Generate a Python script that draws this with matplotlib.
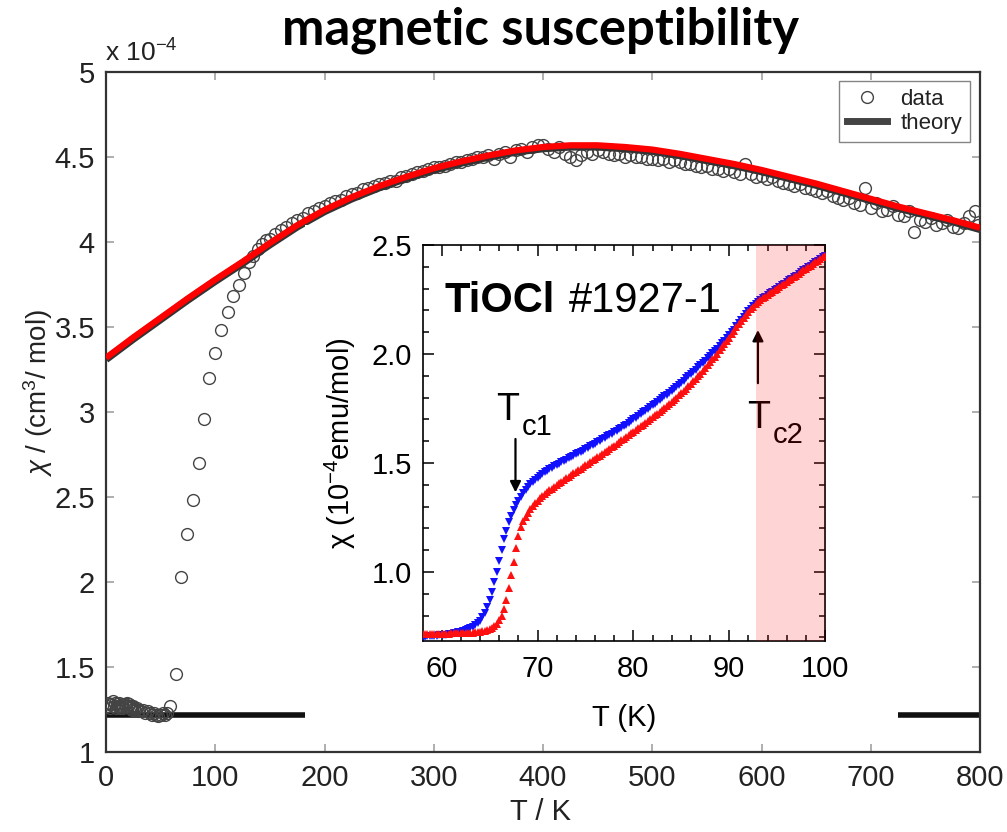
import matplotlib
matplotlib.use("Agg")
import matplotlib.pyplot as plt
from matplotlib.lines import Line2D
from matplotlib.patches import Rectangle
from matplotlib.transforms import offset_copy
from matplotlib.ticker import MultipleLocator, FixedLocator, FixedFormatter

plt.rcParams['font.family'] = ['Liberation Sans', 'DejaVu Sans']
plt.rcParams['mathtext.fontset'] = 'custom'
plt.rcParams['mathtext.rm'] = 'Liberation Sans'
plt.rcParams['mathtext.it'] = 'Liberation Sans:italic'

# ---------------- main panel: chi(T) of TiOCl, 0-800 K (units of 1e-4 cm^3/mol)
T_low = [1, 2, 3, 4, 5, 6, 7, 8, 9, 10, 11, 12, 13, 14, 15, 16, 17, 18, 19,
         20, 21, 22, 23, 24, 25, 26, 27, 28, 29, 30, 32, 34, 36, 38, 40, 42,
         44, 46, 48, 50, 52, 54, 56, 59]
chi_low = [1.27, 1.29, 1.28, 1.26, 1.28, 1.30, 1.27, 1.29, 1.26, 1.28, 1.27,
           1.29, 1.26, 1.27, 1.28, 1.26, 1.28, 1.27, 1.29, 1.27, 1.28, 1.26,
           1.27, 1.25, 1.27, 1.26, 1.25, 1.26, 1.24, 1.25, 1.24, 1.25, 1.23,
           1.24, 1.23, 1.22, 1.23, 1.22, 1.21, 1.22, 1.23, 1.22, 1.23, 1.27]

T_rise = [64, 68.6, 74.1, 79.6, 85.1, 89.7, 94.3, 99.8, 105.3, 111.7, 116.2,
          121.7, 126.3, 130.9, 134.6, 139.1, 142.8, 146.5]
chi_rise = [1.46, 2.03, 2.28, 2.48, 2.70, 2.96, 3.20, 3.35, 3.48, 3.59, 3.68,
            3.75, 3.82, 3.88, 3.92, 3.96, 3.99, 4.01]

T_high = [150, 155, 160, 165, 170, 175, 180, 185, 190, 195, 200, 205, 210,
          215, 220, 225, 230, 235, 240, 245, 250, 255, 260, 265, 270, 275,
          280, 285, 290, 295, 300, 305, 310, 315, 320, 325, 330, 335, 340,
          345, 350, 355, 360, 365, 370, 375, 380, 385, 390, 395, 400, 405,
          410, 415, 420, 425, 430, 435, 440, 445, 450, 455, 460, 465, 470,
          475, 480, 485, 490, 495, 500, 505, 510, 515, 520, 525, 530, 535,
          540, 545, 550, 555, 560, 565, 570, 575, 580, 585, 590, 595, 600,
          605, 610, 615, 620, 625, 630, 635, 640, 645, 650, 655, 660, 665,
          670, 675, 680, 685, 690, 695, 700, 705, 710, 715, 720, 725, 730,
          735, 740, 745, 750, 755, 760, 765, 770, 775, 780, 785, 790, 795, 798]
chi_high = [4.02, 4.05, 4.07, 4.09, 4.11, 4.13, 4.14, 4.17, 4.18, 4.20, 4.21,
            4.23, 4.24, 4.25, 4.27, 4.28, 4.29, 4.31, 4.32, 4.33, 4.34, 4.35,
            4.36, 4.36, 4.38, 4.39, 4.40, 4.41, 4.42, 4.43, 4.44, 4.44, 4.45,
            4.46, 4.47, 4.47, 4.48, 4.49, 4.50, 4.50, 4.51, 4.49, 4.52, 4.53,
            4.50, 4.54, 4.55, 4.53, 4.56, 4.57, 4.57, 4.55, 4.53, 4.56, 4.52,
            4.50, 4.48, 4.51, 4.53, 4.52, 4.54, 4.53, 4.52, 4.51, 4.52, 4.50,
            4.51, 4.50, 4.50, 4.49, 4.49, 4.48, 4.49, 4.47, 4.48, 4.47, 4.46,
            4.46, 4.45, 4.44, 4.45, 4.43, 4.43, 4.42, 4.43, 4.41, 4.40, 4.46,
            4.40, 4.38, 4.39, 4.37, 4.38, 4.36, 4.35, 4.34, 4.33, 4.34, 4.32,
            4.31, 4.30, 4.29, 4.30, 4.27, 4.26, 4.25, 4.26, 4.23, 4.22, 4.32,
            4.20, 4.23, 4.18, 4.19, 4.21, 4.16, 4.15, 4.18, 4.06, 4.13, 4.12,
            4.14, 4.10, 4.11, 4.13, 4.09, 4.08, 4.11, 4.15, 4.18, 4.10]

T_theory = [0, 25, 50, 75, 100, 125, 150, 175, 200, 225, 250, 275, 300, 325,
            350, 375, 400, 425, 450, 475, 500, 525, 550, 575, 600, 625, 650,
            675, 700, 725, 750, 775, 800]
chi_theory = [3.31, 3.43, 3.545, 3.66, 3.77, 3.875, 3.985, 4.09, 4.18, 4.255,
              4.32, 4.375, 4.425, 4.465, 4.50, 4.53, 4.55, 4.56, 4.56, 4.55,
              4.535, 4.51, 4.48, 4.45, 4.415, 4.375, 4.335, 4.29, 4.245, 4.20,
              4.16, 4.12, 4.075]

T_flat = [0, 800]
chi_flat = [1.218, 1.218]

main_xticks = [0, 100, 200, 300, 400, 500, 600, 700, 800]
main_yticks = [1, 1.5, 2, 2.5, 3, 3.5, 4, 4.5, 5]
main_ylabels = ['1', '1.5', '2', '2.5', '3', '3.5', '4', '4.5', '5']

# ---------------- inset: low-temperature sweeps (units of 1e-4 emu/mol)
T_in = [58.0, 58.25, 58.5, 58.75, 59.0, 59.25, 59.5, 59.75, 60.0, 60.25, 60.5,
        60.75, 61.0, 61.25, 61.5, 61.75, 62.0, 62.25, 62.5, 62.75, 63.0, 63.25,
        63.5, 63.75, 64.0, 64.25, 64.5, 64.75, 65.0, 65.25, 65.5, 65.75, 66.0,
        66.25, 66.5, 66.75, 67.0, 67.25, 67.5, 67.75, 68.0, 68.25, 68.5, 68.75,
        69.0, 69.25, 69.5, 69.75, 70.0, 70.25, 70.5, 70.75, 71.0, 71.25, 71.5,
        71.75, 72.0, 72.25, 72.5, 72.75, 73.0, 73.25, 73.5, 73.75, 74.0, 74.25,
        74.5, 74.75, 75.0, 75.25, 75.5, 75.75, 76.0, 76.25, 76.5, 76.75, 77.0,
        77.25, 77.5, 77.75, 78.0, 78.25, 78.5, 78.75, 79.0, 79.25, 79.5, 79.75,
        80.0, 80.25, 80.5, 80.75, 81.0, 81.25, 81.5, 81.75, 82.0, 82.25, 82.5,
        82.75, 83.0, 83.25, 83.5, 83.75, 84.0, 84.25, 84.5, 84.75, 85.0, 85.25,
        85.5, 85.75, 86.0, 86.25, 86.5, 86.75, 87.0, 87.25, 87.5, 87.75, 88.0,
        88.25, 88.5, 88.75, 89.0, 89.25, 89.5, 89.75, 90.0, 90.25, 90.5, 90.75,
        91.0, 91.25, 91.5, 91.75, 92.0, 92.25, 92.5, 92.75, 93.0, 93.25, 93.5,
        93.75, 94.0, 94.25, 94.5, 94.75, 95.0, 95.25, 95.5, 95.75, 96.0, 96.25,
        96.5, 96.75, 97.0, 97.25, 97.5, 97.75, 98.0, 98.25, 98.5, 98.75, 99.0,
        99.25, 99.5, 99.75, 100.0]
chi_cool = [0.703, 0.703, 0.704, 0.705, 0.706, 0.707, 0.708, 0.709, 0.710,
            0.711, 0.712, 0.714, 0.716, 0.718, 0.720, 0.723, 0.726, 0.729,
            0.733, 0.737, 0.742, 0.748, 0.756, 0.765, 0.777, 0.792, 0.812,
            0.838, 0.870, 0.908, 0.952, 1.000, 1.050, 1.100, 1.150, 1.190,
            1.228, 1.258, 1.283, 1.305, 1.325, 1.343, 1.360, 1.375, 1.389,
            1.402, 1.413, 1.423, 1.433, 1.442, 1.450, 1.458, 1.465, 1.472,
            1.478, 1.484, 1.490, 1.497, 1.503, 1.509, 1.515, 1.521, 1.527,
            1.533, 1.539, 1.545, 1.551, 1.557, 1.563, 1.570, 1.576, 1.583,
            1.589, 1.596, 1.602, 1.609, 1.615, 1.622, 1.628, 1.635, 1.641,
            1.648, 1.654, 1.661, 1.668, 1.676, 1.684, 1.692, 1.700, 1.708,
            1.716, 1.724, 1.732, 1.740, 1.748, 1.756, 1.764, 1.772, 1.780,
            1.788, 1.797, 1.805, 1.814, 1.823, 1.832, 1.841, 1.850, 1.859,
            1.869, 1.878, 1.888, 1.898, 1.908, 1.918, 1.928, 1.938, 1.949,
            1.959, 1.970, 1.981, 1.992, 2.003, 2.014, 2.025, 2.037, 2.049,
            2.061, 2.073, 2.086, 2.099, 2.112, 2.127, 2.141, 2.155, 2.169,
            2.182, 2.195, 2.207, 2.218, 2.228, 2.238, 2.247, 2.255, 2.263,
            2.270, 2.278, 2.285, 2.293, 2.300, 2.308, 2.315, 2.323, 2.330,
            2.338, 2.345, 2.353, 2.360, 2.368, 2.375, 2.383, 2.390, 2.398,
            2.405, 2.413, 2.420, 2.428, 2.435, 2.443, 2.450]
chi_heat = [0.715, 0.715, 0.715, 0.715, 0.716, 0.716, 0.716, 0.716, 0.717,
            0.717, 0.717, 0.717, 0.718, 0.718, 0.718, 0.718, 0.719, 0.719,
            0.720, 0.720, 0.721, 0.722, 0.723, 0.724, 0.726, 0.728, 0.731,
            0.734, 0.738, 0.743, 0.750, 0.762, 0.778, 0.800, 0.832, 0.872,
            0.925, 0.985, 1.045, 1.110, 1.165, 1.205, 1.232, 1.254, 1.272,
            1.288, 1.302, 1.315, 1.327, 1.337, 1.347, 1.356, 1.365, 1.374,
            1.382, 1.390, 1.398, 1.406, 1.414, 1.422, 1.429, 1.437, 1.444,
            1.452, 1.459, 1.467, 1.474, 1.482, 1.489, 1.497, 1.504, 1.512,
            1.519, 1.527, 1.534, 1.542, 1.549, 1.557, 1.564, 1.572, 1.580,
            1.588, 1.596, 1.604, 1.612, 1.620, 1.628, 1.636, 1.644, 1.652,
            1.660, 1.668, 1.676, 1.684, 1.692, 1.701, 1.709, 1.718, 1.726,
            1.735, 1.744, 1.753, 1.762, 1.772, 1.781, 1.791, 1.800, 1.810,
            1.820, 1.831, 1.841, 1.852, 1.863, 1.875, 1.886, 1.898, 1.910,
            1.923, 1.935, 1.948, 1.961, 1.975, 1.988, 2.002, 2.016, 2.031,
            2.045, 2.060, 2.075, 2.091, 2.106, 2.122, 2.137, 2.152, 2.167,
            2.181, 2.194, 2.206, 2.217, 2.227, 2.237, 2.247, 2.255, 2.263,
            2.270, 2.278, 2.285, 2.293, 2.300, 2.308, 2.315, 2.323, 2.330,
            2.338, 2.345, 2.353, 2.360, 2.368, 2.375, 2.383, 2.390, 2.398,
            2.405, 2.413, 2.420, 2.428, 2.435, 2.443, 2.450]

inset_xticks = [60, 70, 80, 90, 100]
inset_yticks = [1.0, 1.5, 2.0, 2.5]
inset_ylabels = ['1.0', '1.5', '2.0', '2.5']
Tc2_band = [92.8, 100]

W, H = 1007, 832
fig = plt.figure(figsize=(W / 100, H / 100), dpi=100)
fig.patch.set_facecolor('white')

def fx(px):
    return px / W

def fy(py):
    return 1 - py / H

# ---------------- main axes
ax = fig.add_axes([fx(106), fy(752), fx(980) - fx(106), fy(72) - fy(752)])
ax.set_xlim(0, 800)
ax.set_ylim(1, 5)
for s in ax.spines.values():
    s.set_color('#333333')
    s.set_linewidth(1.6)
ax.xaxis.set_major_locator(FixedLocator(main_xticks))
ax.yaxis.set_major_locator(FixedLocator(main_yticks))
ax.yaxis.set_major_formatter(FixedFormatter(main_ylabels))
ax.tick_params(direction='in', length=6, width=1.1, color='#999999',
               labelsize=21, labelcolor='#222222', top=True, right=True)
ax.tick_params(axis='x', pad=9)
ax.tick_params(axis='y', pad=8)

ax.plot(T_flat, chi_flat, color='#111111', lw=4, zorder=2, solid_capstyle='butt')
mk = dict(ls='none', marker='o', ms=8.5, mfc='none', mec='#444444', mew=1.0, zorder=3)
ax.plot(T_low, chi_low, **mk)
ax.plot(T_rise, chi_rise, **mk)
ax.plot(T_high, chi_high, **mk)
ax.plot(T_theory, chi_theory, color='#333333', lw=5.5, zorder=4,
        solid_capstyle='butt')
red_tr = offset_copy(ax.transData, fig=fig, x=0, y=1.5, units='dots')
ax.plot(T_theory, chi_theory, color='#ff0000', lw=4.5, zorder=5, transform=red_tr,
        solid_capstyle='butt')

leg = ax.legend([Line2D([], [], **{k: v for k, v in mk.items() if k != 'zorder'}),
                 Line2D([], [], color='#444444', lw=5)],
                ['data', 'theory'], loc='upper right',
                bbox_to_anchor=((970 - 106) / 874, (752 - 81) / 680),
                borderaxespad=0, fontsize=16, frameon=True, fancybox=False,
                handlelength=1.8, handletextpad=0.6, labelspacing=0.15,
                borderpad=0.35)
leg.get_frame().set_edgecolor('#666666')
leg.get_frame().set_linewidth(1.0)
for t in leg.get_texts():
    t.set_color('#222222')

fig.text(fx(105), fy(62), r'x 10$^{-4}$', fontsize=19, color='#222222',
         ha='left', va='baseline')
fig.text(fx(38), fy(393), r'$\chi$ / (cm$^{3}$/ mol)', fontsize=20, rotation=90,
         ha='center', va='center', color='#222222')
fig.text(fx(541), fy(812), 'T / K', fontsize=21, ha='center', va='center',
         color='#222222')
fig.text(fx(541), fy(30), 'magnetic susceptibility', fontsize=36.5,
         fontweight='bold', family=['Lato', 'DejaVu Sans'], ha='center',
         va='center', color='black')

# white backing for the inset
fig.patches.append(Rectangle((fx(305), fy(735)), fx(898) - fx(305), fy(225) - fy(735),
                             transform=fig.transFigure, facecolor='white',
                             edgecolor='none', zorder=0.5))

# ---------------- inset axes
ax2 = fig.add_axes([fx(423), fy(641), fx(825) - fx(423), fy(245) - fy(641)])
ax2.set_zorder(1)
ax2.set_facecolor('white')
ax2.set_xlim(58.05, 100)
ax2.set_ylim(0.683, 2.5)
for s in ax2.spines.values():
    s.set_color('black')
    s.set_linewidth(1.2)
ax2.xaxis.set_major_locator(FixedLocator(inset_xticks))
ax2.xaxis.set_minor_locator(MultipleLocator(2))
ax2.yaxis.set_major_locator(FixedLocator(inset_yticks))
ax2.yaxis.set_major_formatter(FixedFormatter(inset_ylabels))
ax2.yaxis.set_minor_locator(MultipleLocator(0.1))
ax2.tick_params(which='both', direction='in', top=True, right=True, width=1.1,
                color='black', labelsize=21)
ax2.tick_params(which='major', length=8)
ax2.tick_params(which='minor', length=4.5)
ax2.tick_params(axis='x', pad=10)
ax2.tick_params(axis='y', pad=8)

ax2.plot(T_in, chi_cool, ls='none', marker='v', ms=5.5, color='#1010ff', mew=0, zorder=3)
ax2.plot(T_in, chi_heat, ls='none', marker='^', ms=5.5, color='#ff1010', mew=0, zorder=4)
ax2.axvspan(Tc2_band[0], Tc2_band[1], color='#ff0000', alpha=0.17, lw=0, zorder=10)

ax2.set_xlabel('T (K)', fontsize=21, labelpad=15)
ax2.set_ylabel('\u03c7 (10$^{-4}$emu/mol)', fontsize=21, labelpad=10)

t1 = ax2.text(60.34, 2.194, 'TiOCl', fontsize=30, fontweight='bold',
              ha='left', va='baseline')
ax2.annotate('#1927-1', xy=(1, 0), xycoords=t1, xytext=(10, 0),
             textcoords='offset points', fontsize=30, ha='left', va='bottom')

# transition markers
ax2.text(65.73, 1.697, 'T', fontsize=27, ha='left', va='baseline')
ax2.text(68.33, 1.628, 'c1', fontsize=21, ha='left', va='baseline')
ax2.annotate('', xy=(67.7, 1.365), xytext=(67.7, 1.61),
             arrowprops=dict(arrowstyle='-|>', color='black', lw=1.6,
                             mutation_scale=16, shrinkA=0, shrinkB=0))
ax2.text(91.9, 1.66, 'T', fontsize=27, ha='left', va='baseline')
ax2.text(94.5, 1.592, 'c2', fontsize=21, ha='left', va='baseline')
ax2.annotate('', xy=(93.0, 2.11), xytext=(93.0, 1.866),
             arrowprops=dict(arrowstyle='-|>', color='black', lw=1.6,
                             mutation_scale=16, shrinkA=0, shrinkB=0))

fig.savefig('out.png', dpi=100, facecolor='white')
